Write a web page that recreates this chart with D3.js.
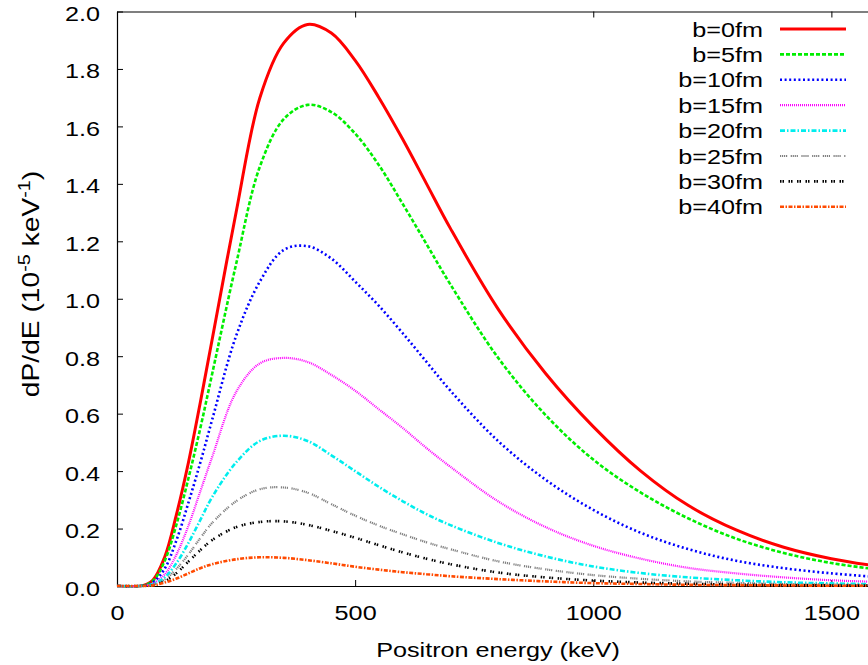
<!DOCTYPE html>
<html>
<head>
<meta charset="utf-8">
<script src="https://cdn.jsdelivr.net/npm/d3@7"></script>
<style>
  body { margin: 0; background: #fff; }
  text { font-family: 'Liberation Sans', Arial, Helvetica, sans-serif; fill: #000; }
</style>
</head>
<body>
<script>
'use strict';

// positron energy grid (keV)
var energies = [0, 50, 75, 100, 125, 150, 175, 200, 250, 300, 350, 400, 450, 500, 550, 600, 650, 700, 800, 900, 1000, 1100, 1200, 1300, 1400, 1500, 1600];

// dP/dE in 1e-5 / keV, one list per impact parameter
var b0  = [0, 0, 0.02, 0.10, 0.25, 0.43, 0.64, 0.86, 1.30, 1.70, 1.89, 1.955, 1.925, 1.83, 1.70, 1.555, 1.40, 1.245, 0.965, 0.74, 0.555, 0.40, 0.28, 0.195, 0.135, 0.095, 0.068];
var b5  = [0, 0, 0.017, 0.087, 0.215, 0.375, 0.55, 0.74, 1.12, 1.46, 1.625, 1.675, 1.65, 1.575, 1.465, 1.33, 1.19, 1.05, 0.795, 0.595, 0.44, 0.325, 0.235, 0.165, 0.115, 0.08, 0.057];
var b10 = [0, 0, 0.012, 0.06, 0.16, 0.29, 0.43, 0.58, 0.87, 1.06, 1.17, 1.183, 1.14, 1.06, 0.975, 0.88, 0.78, 0.68, 0.505, 0.37, 0.265, 0.185, 0.128, 0.088, 0.062, 0.044, 0.031];
var b15 = [0, 0, 0.008, 0.04, 0.11, 0.21, 0.33, 0.45, 0.675, 0.775, 0.794, 0.78, 0.735, 0.68, 0.615, 0.55, 0.48, 0.415, 0.295, 0.205, 0.14, 0.095, 0.063, 0.044, 0.03, 0.02, 0.014];
var b20 = [0, 0, 0.006, 0.03, 0.08, 0.15, 0.23, 0.31, 0.43, 0.505, 0.523, 0.505, 0.455, 0.40, 0.345, 0.295, 0.25, 0.212, 0.15, 0.103, 0.068, 0.045, 0.03, 0.02, 0.013, 0.009, 0.006];
var b25 = [0, 0, 0.004, 0.022, 0.06, 0.11, 0.167, 0.22, 0.295, 0.337, 0.343, 0.325, 0.285, 0.245, 0.21, 0.18, 0.152, 0.128, 0.086, 0.058, 0.038, 0.025, 0.016, 0.011, 0.007, 0.005, 0.003];
var b30 = [0, 0, 0.003, 0.016, 0.045, 0.085, 0.125, 0.16, 0.205, 0.223, 0.225, 0.213, 0.192, 0.168, 0.142, 0.117, 0.095, 0.076, 0.047, 0.03, 0.019, 0.012, 0.008, 0.005, 0.003, 0.002, 0.001];
var b40 = [0, 0, 0.002, 0.012, 0.026, 0.044, 0.062, 0.076, 0.093, 0.1, 0.098, 0.09, 0.079, 0.067, 0.057, 0.048, 0.041, 0.034, 0.024, 0.016, 0.01, 0.007, 0.004, 0.003, 0.002, 0.001, 0.001];

var labels = ['b=0fm', 'b=5fm', 'b=10fm', 'b=15fm', 'b=20fm', 'b=25fm', 'b=30fm', 'b=40fm'];
var seriesValues = [b0, b5, b10, b15, b20, b25, b30, b40];

var xTicks = [0, 500, 1000, 1500];
var yTicks = [0, 0.2, 0.4, 0.6, 0.8, 1.0, 1.2, 1.4, 1.6, 1.8, 2.0];

var colors = ['#ff0000', '#00ee00', '#0000ff', '#ff00ff', '#00eeee', '#808080', '#000000', '#ff4a00'];
var dashes = [null, '4,2', '2,2.6', '1,1', '5,2,1.5,2', '1.2,0.8,1.2,0.8,1.2,0.8,1.2,3.5', '1.5,1,1.5,4.5', '4,1.5,1.5,1.5'];
var widths = [3, 2.6, 2.6, 2.2, 2.6, 2.2, 2.6, 2.6];

var W = 868, H = 665;
var plotL = 117, plotR = 879, plotT = 11.5, plotB = 586;
var stretch = 1.2;
var fontSize = 21;

var svg = d3.select('body')
    .append('svg')
    .attr('width', W)
    .attr('height', H);

var x = d3.scaleLinear().domain([0, 1600]).range([plotL, plotR]);
var y = d3.scaleLinear().domain([0, 2.0]).range([plotB, plotT]);

svg.append('defs').append('clipPath')
    .attr('id', 'plotclip')
    .append('rect')
    .attr('x', plotL).attr('y', plotT)
    .attr('width', plotR - plotL).attr('height', plotB - plotT + 1.5);

// axes (ticks point inwards like gnuplot)
var xAxis = svg.append('g')
    .attr('transform', 'translate(0,' + plotB + ')')
    .call(d3.axisBottom(x).tickValues(xTicks).tickSize(-6).tickSizeOuter(0).tickFormat(d3.format('d')));

xAxis.selectAll('text')
    .attr('y', 34)
    .attr('dy', null)
    .attr('transform', 'scale(' + stretch + ',1)');

var yAxis = svg.append('g')
    .attr('transform', 'translate(' + plotL + ',0)')
    .call(d3.axisLeft(y).tickValues(yTicks).tickSize(-6).tickSizeOuter(0).tickFormat(d3.format('.1f')));

yAxis.selectAll('text')
    .attr('x', -17 / stretch)
    .attr('dy', '0.43em')
    .attr('transform', 'scale(' + stretch + ',1)');

var topAxis = svg.append('g')
    .attr('transform', 'translate(0,' + plotT + ')')
    .call(d3.axisTop(x).tickValues(xTicks).tickSize(-6).tickSizeOuter(0).tickFormat(''));

svg.selectAll('.domain').attr('stroke', '#000').attr('stroke-width', 1.2);
svg.selectAll('.tick line').attr('stroke', '#000').attr('stroke-width', 1);
svg.selectAll('.tick text')
    .style('font-family', "'Liberation Sans', Arial, sans-serif")
    .style('font-size', fontSize + 'px')
    .attr('fill', '#000');

// curves
var line = d3.line()
    .x(function (d) { return x(d.e); })
    .y(function (d) { return y(d.v); })
    .curve(d3.curveCatmullRom.alpha(0.5));

var curves = svg.append('g').attr('clip-path', 'url(#plotclip)');

seriesValues.forEach(function (vals, i) {
    var pts = energies.map(function (e, k) { return { e: e, v: vals[k] }; });
    curves.append('path')
        .datum(pts)
        .attr('d', line)
        .attr('fill', 'none')
        .attr('stroke', colors[i])
        .attr('stroke-width', widths[i])
        .attr('stroke-dasharray', dashes[i]);
});

// legend
var legend = svg.append('g');
labels.forEach(function (lab, i) {
    var cy = 29 + i * 25.4;
    legend.append('text')
        .attr('transform', 'translate(763,' + (cy + 7.5) + ') scale(' + stretch + ',1)')
        .attr('text-anchor', 'end')
        .style('font-size', fontSize + 'px')
        .text(lab);
    legend.append('line')
        .attr('x1', 780).attr('x2', 846)
        .attr('y1', cy).attr('y2', cy)
        .attr('stroke', colors[i])
        .attr('stroke-width', widths[i])
        .attr('stroke-dasharray', dashes[i]);
});

// axis titles
svg.append('text')
    .attr('transform', 'translate(498,657) scale(' + stretch + ',1)')
    .attr('text-anchor', 'middle')
    .style('font-size', fontSize + 'px')
    .text('Positron energy (keV)');

var yt = svg.append('text')
    .attr('transform', 'translate(39,284) rotate(-90) scale(' + stretch + ',1)')
    .attr('text-anchor', 'middle')
    .style('font-size', '23.5px');
yt.append('tspan').text('dP/dE (10');
yt.append('tspan').attr('dy', -9).style('font-size', '16.5px').text('-5');
yt.append('tspan').attr('dy', 9).text(' keV');
yt.append('tspan').attr('dy', -9).style('font-size', '16.5px').text('-1');
yt.append('tspan').attr('dy', 9).text(')');
</script>
</body>
</html>
